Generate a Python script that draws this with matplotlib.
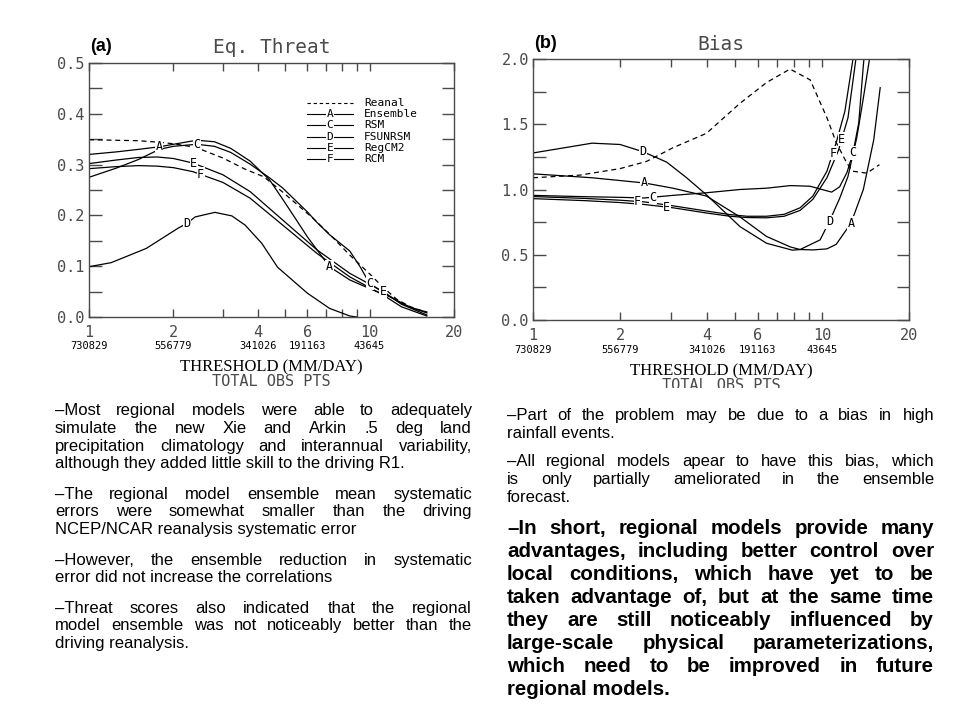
import numpy as np
import matplotlib
matplotlib.use('Agg')
import matplotlib.pyplot as plt
from matplotlib.transforms import Bbox

# ---- panel (a): Eq. Threat ----
a_ren_x = [1, 1.5, 1.78, 2, 2.4, 3, 3.6, 4.2, 4.9, 6.3, 7.2, 8.5, 10, 11.2, 12.5, 14, 16]
a_ren_y = [0.349, 0.347, 0.344, 0.341, 0.334, 0.313, 0.291, 0.276, 0.246, 0.194, 0.163, 0.122, 0.085, 0.058, 0.035, 0.020, 0.009]
a_A_x = [1, 1.25, 1.5, 1.78, 2, 2.42, 2.8, 3.2, 3.75, 4.4, 4.9, 5.5, 6.0, 6.5, 7.2, 8.5, 10, 11.8, 13.9, 16]
a_A_y = [0.320, 0.325, 0.330, 0.335, 0.340, 0.348, 0.345, 0.332, 0.307, 0.270, 0.232, 0.190, 0.158, 0.132, 0.099, 0.073, 0.056, 0.040, 0.020, 0.008]
a_C_x = [1, 1.25, 1.5, 1.78, 2, 2.42, 2.8, 3.2, 3.75, 4.4, 4.9, 6.0, 6.5, 7.2, 8.5, 9.3, 10, 11.2, 12.5, 14, 16]
a_C_y = [0.275, 0.293, 0.310, 0.330, 0.336, 0.340, 0.336, 0.324, 0.301, 0.274, 0.254, 0.207, 0.186, 0.162, 0.130, 0.097, 0.066, 0.048, 0.032, 0.018, 0.010]
a_D_x = [1, 1.2, 1.6, 2.08, 2.23, 2.39, 2.81, 3.23, 3.6, 4.13, 4.7, 6.0, 7.2, 8.5, 9.0]
a_D_y = [0.099, 0.107, 0.135, 0.175, 0.184, 0.197, 0.206, 0.199, 0.181, 0.145, 0.098, 0.047, 0.017, 0.002, 0.0]
a_EF_x = [1, 1.25, 1.5, 1.75, 2, 2.35, 3, 3.75, 4.9, 6.5, 8.5, 11.2, 13, 16]
a_E_y = [0.302, 0.309, 0.314, 0.315, 0.312, 0.303, 0.280, 0.247, 0.191, 0.132, 0.086, 0.050, 0.025, 0.004]
a_F_y = [0.292, 0.296, 0.298, 0.297, 0.294, 0.286, 0.265, 0.234, 0.181, 0.125, 0.079, 0.043, 0.020, 0.002]

# ---- panel (b): Bias ----
b_ren_x = [1, 1.45, 2, 2.47, 3.05, 3.98, 5.2, 6.43, 7.75, 9.1, 10.4, 11.2, 12.2, 12.8, 14.3, 15.8]
b_ren_y = [1.09, 1.11, 1.16, 1.215, 1.32, 1.43, 1.66, 1.82, 1.923, 1.84, 1.55, 1.36, 1.20, 1.14, 1.125, 1.19]
b_A_x = [1, 1.6, 2.43, 3.05, 3.98, 5.2, 6.43, 7.77, 8.4, 9.3, 10.4, 11.2, 12.6, 13.9, 15.1, 15.9]
b_A_y = [1.12, 1.09, 1.05, 1.01, 0.95, 0.79, 0.64, 0.56, 0.54, 0.537, 0.545, 0.58, 0.742, 1.0, 1.38, 1.78]
b_C_x = [1, 1.5, 2, 2.43, 3.05, 3.98, 5.2, 6.43, 7.77, 9.1, 10.0, 10.8, 11.5, 12.2, 12.8, 13.4, 13.9, 14.1]
b_C_y = [0.955, 0.945, 0.94, 0.935, 0.955, 0.975, 1.0, 1.01, 1.03, 1.025, 1.0, 0.98, 1.02, 1.13, 1.28, 1.51, 1.95, 2.1]
b_D_x = [1, 1.6, 2, 2.4, 2.9, 3.4, 3.98, 5.2, 6.43, 7.9, 8.4, 9.85, 10.6, 11.5, 12.3, 13.2, 13.9, 14.6, 14.8]
b_D_y = [1.28, 1.355, 1.345, 1.29, 1.21, 1.09, 0.96, 0.716, 0.588, 0.535, 0.54, 0.614, 0.754, 0.93, 1.10, 1.40, 1.70, 2.0, 2.1]
b_F_x = [1, 1.5, 2, 2.43, 3.05, 3.98, 4.8, 5.5, 6.43, 7.4, 8.4, 9.3, 10.4, 11.2, 12.0, 12.8, 13.0]
b_F_y = [0.946, 0.932, 0.918, 0.905, 0.875, 0.835, 0.808, 0.795, 0.795, 0.81, 0.86, 0.95, 1.14, 1.36, 1.6, 2.0, 2.1]
b_E_x = [1, 1.5, 2, 2.43, 3.05, 3.98, 4.8, 5.5, 6.43, 7.4, 8.4, 9.3, 10.4, 11.4, 12.3, 13.1, 13.3]
b_E_y = [0.93, 0.915, 0.90, 0.885, 0.86, 0.82, 0.795, 0.785, 0.783, 0.795, 0.84, 0.925, 1.09, 1.30, 1.55, 2.0, 2.1]

x_ticks = [1, 2, 3, 4, 5, 6, 7, 8, 9, 10, 20]
x_labels = ['1', '2', '', '4', '', '6', '', '', '', '10', '20']
obs_x = [1, 2, 4, 6, 10]
obs_pts = ['730829', '556779', '341026', '191163', '43645']

legend_keys = ['A', 'C', 'D', 'E', 'F']
legend_names = ['Ensemble', 'RSM', 'FSUNRSM', 'RegCM2', 'RCM']

left_text = [
    ("\u2013Most regional models were able to adequately", True),
    ("simulate the new Xie and Arkin .5 deg land", True),
    ("precipitation climatology and interannual variability,", True),
    ("although they added little skill to the driving R1.", False),
    None,
    ("\u2013The regional model ensemble mean systematic", True),
    ("errors were somewhat smaller than the driving", True),
    ("NCEP/NCAR reanalysis systematic error", False),
    None,
    ("\u2013However, the ensemble reduction in systematic", True),
    ("error did not increase the correlations", False),
    None,
    ("\u2013Threat scores also indicated that the regional", True),
    ("model ensemble was not noticeably better than the", True),
    ("driving reanalysis.", False),
]
right_text = [
    ("\u2013Part of the problem may be due to a bias in high", True),
    ("rainfall events.", False),
    None,
    ("\u2013All regional models apear to have this bias, which", True),
    ("is only partially ameliorated in the ensemble", True),
    ("forecast.", False),
]
right_bold = [
    ("\u2013In short, regional models provide many", True),
    ("advantages, including better control over", True),
    ("local conditions, which have yet to be", True),
    ("taken advantage of, but at the same time", True),
    ("they are still noticeably influenced by", True),
    ("large-scale physical parameterizations,", True),
    ("which need to be improved in future", True),
    ("regional models.", False),
]

W, H = 960, 720
MONO = 'DejaVu Sans Mono'
GRAY = '#4a4a4a'
fig = plt.figure(figsize=(W / 100, H / 100), dpi=100)
fig.patch.set_facecolor('white')


def px_axes(l, t, r, b):
    return fig.add_axes([l / W, 1 - b / H, (r - l) / W, (b - t) / H])


def label_on(ax, xs, ys, at, letter):
    yv = np.interp(np.log(at), np.log(xs), ys)
    ax.text(at, yv, letter, fontsize=8.5, family=MONO, color='black',
            ha='center', va='center', zorder=5,
            bbox=dict(facecolor='white', edgecolor='none', pad=0.3))


def style(ax, ymax, ystep, title, tag, title_off, xlab_off):
    ax.set_xscale('log')
    ax.set_xlim(1, 20)
    ax.set_ylim(0, ymax)
    ax.set_xticks(x_ticks)
    ax.set_xticklabels(x_labels)
    ax.xaxis.set_minor_locator(matplotlib.ticker.NullLocator())
    ax.set_yticks(np.arange(0, ymax + 1e-9, ystep))
    ax.set_yticklabels(['%.1f' % v for v in np.arange(0, ymax + 1e-9, ystep)])
    ax.set_yticks(np.arange(0, ymax + 1e-9, ystep / 2), minor=True)
    ax.tick_params(axis='x', direction='in', length=6, width=1, top=True,
                   pad=6, labelsize=11, labelcolor=GRAY, color=GRAY)
    ax.tick_params(axis='y', which='both', direction='in', length=9, width=1,
                   right=True, pad=3, labelsize=11, labelcolor=GRAY, color=GRAY)
    for lab in ax.get_xticklabels() + ax.get_yticklabels():
        lab.set_family(MONO)
    for s in ax.spines.values():
        s.set_color(GRAY)
        s.set_linewidth(1)
    ax.annotate(title, xy=(0.5, 1), xycoords='axes fraction',
                xytext=(0, title_off), textcoords='offset pixels',
                ha='center', va='center', family=MONO, fontsize=14, color=GRAY)
    ax.annotate(tag, xy=(0, 1), xycoords='axes fraction', xytext=(1, 16),
                textcoords='offset pixels', ha='left', va='center',
                family='Liberation Sans', fontweight='bold', fontsize=13)
    for xv, s in zip(obs_x, obs_pts):
        ax.annotate(s, xy=(xv, 0), xycoords=('data', 'axes fraction'),
                    xytext=(0, -xlab_off), textcoords='offset pixels',
                    ha='center', va='center', family=MONO, fontsize=7.5)
    ax.annotate('THRESHOLD (MM/DAY)', xy=(0.5, 0), xycoords='axes fraction',
                xytext=(0, -xlab_off - 21), textcoords='offset pixels',
                ha='center', va='center', family='Liberation Serif', fontsize=12)
    t = ax.annotate('TOTAL OBS PTS', xy=(0.5, 0), xycoords='axes fraction',
                    xytext=(0, -xlab_off - 36), textcoords='offset pixels',
                    ha='center', va='center', family=MONO, fontsize=11, color=GRAY)
    return t


# ---- (a) ----
ax1 = px_axes(89, 63, 454, 317)
lw = 0.9
ax1.plot(a_ren_x, a_ren_y, 'k--', lw=lw, dashes=(4, 3))
ax1.plot(a_A_x, a_A_y, 'k-', lw=lw)
ax1.plot(a_C_x, a_C_y, 'k-', lw=lw)
ax1.plot(a_D_x, a_D_y, 'k-', lw=lw)
ax1.plot(a_EF_x, a_E_y, 'k-', lw=lw)
ax1.plot(a_EF_x, a_F_y, 'k-', lw=lw)
label_on(ax1, a_A_x, a_A_y, 1.78, 'A')
label_on(ax1, a_A_x, a_A_y, 7.2, 'A')
label_on(ax1, a_C_x, a_C_y, 2.42, 'C')
label_on(ax1, a_C_x, a_C_y, 10.0, 'C')
label_on(ax1, a_D_x, a_D_y, 2.23, 'D')
label_on(ax1, a_EF_x, a_E_y, 2.36, 'E')
label_on(ax1, a_EF_x, a_E_y, 11.2, 'E')
label_on(ax1, a_EF_x, a_F_y, 2.5, 'F')
style(ax1, 0.5, 0.1, 'Eq. Threat', '(a)', 15, 29)

# legend drawn GrADS-style
leg_y0, leg_dy = 0.843, 0.0445
ax1.plot([0.597, 0.723], [leg_y0, leg_y0], 'k--', lw=0.8, dashes=(3, 2.5),
         transform=ax1.transAxes)
ax1.text(0.753, leg_y0, 'Reanal', transform=ax1.transAxes, va='center',
         family=MONO, fontsize=8)
for i, (k, name) in enumerate(zip(legend_keys, legend_names)):
    yy = leg_y0 - (i + 1) * leg_dy
    ax1.plot([0.597, 0.723], [yy, yy], 'k-', lw=0.8, transform=ax1.transAxes)
    ax1.text(0.66, yy, k, transform=ax1.transAxes, ha='center', va='center',
             family=MONO, fontsize=8,
             bbox=dict(facecolor='white', edgecolor='none', pad=0.4))
    ax1.text(0.753, yy, name, transform=ax1.transAxes, va='center',
             family=MONO, fontsize=8)

# ---- (b) ----
ax2 = px_axes(533, 59, 909, 320)
ax2.plot(b_ren_x, b_ren_y, 'k--', lw=lw, dashes=(4, 3))
ax2.plot(b_A_x, b_A_y, 'k-', lw=lw)
ax2.plot(b_C_x, b_C_y, 'k-', lw=lw)
ax2.plot(b_D_x, b_D_y, 'k-', lw=lw)
ax2.plot(b_F_x, b_F_y, 'k-', lw=lw)
ax2.plot(b_E_x, b_E_y, 'k-', lw=lw)
label_on(ax2, b_D_x, b_D_y, 2.4, 'D')
label_on(ax2, b_A_x, b_A_y, 2.43, 'A')
label_on(ax2, b_C_x, b_C_y, 2.6, 'C')
label_on(ax2, b_F_x, b_F_y, 2.3, 'F')
label_on(ax2, b_E_x, b_E_y, 2.9, 'E')
label_on(ax2, b_D_x, b_D_y, 10.6, 'D')
label_on(ax2, b_A_x, b_A_y, 12.6, 'A')
label_on(ax2, b_C_x, b_C_y, 12.8, 'C')
label_on(ax2, b_F_x, b_F_y, 10.9, 'F')
label_on(ax2, b_E_x, b_E_y, 11.7, 'E')
tb = style(ax2, 2.0, 0.5, 'Bias', '(b)', 14, 30)
tb.set_clip_box(Bbox([[0, H - 388], [W, H]]))
tb.set_clip_on(True)

# ---- justified text blocks (baselines in pixels from top) ----
renderer = fig.canvas.get_renderer()


def text_block(lines, x0, x1, y0, dy, gap, size, weight='normal'):
    y = y0
    kw = dict(family='Liberation Sans', fontsize=size, fontweight=weight,
              va='baseline', ha='left')
    for item in lines:
        if item is None:
            y += gap
            continue
        line, just = item
        words = line.split()
        yb = 1 - round(y) / H
        if not just or len(words) < 2:
            fig.text(x0 / W, yb, line, **kw)
        else:
            widths = []
            for w in words:
                t = fig.text(0, 0, w, **kw)
                widths.append(t.get_window_extent(renderer).width)
                t.remove()
            space = (x1 - x0 - sum(widths)) / (len(words) - 1)
            x = x0
            for w, wd in zip(words, widths):
                fig.text(x / W, yb, w, **kw)
                x += wd + space
        y += dy
    return y


text_block(left_text, 55, 472, 415, 17.8, 12.5, 12)
text_block(right_text, 507, 934, 420, 18.5, 8.5, 12)
text_block(right_bold, 507, 934, 534, 23, 0, 14.8, 'bold')

fig.savefig('out.png', dpi=100, facecolor='white')
